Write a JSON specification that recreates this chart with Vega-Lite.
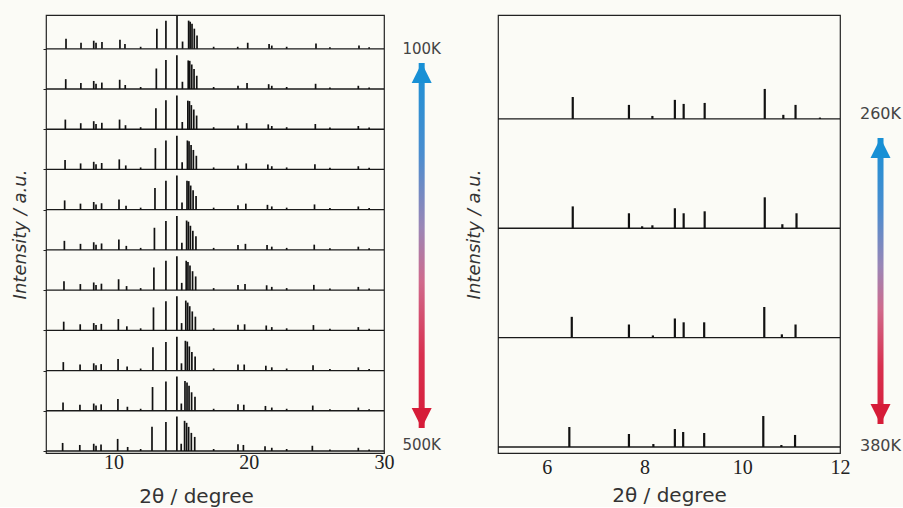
{
"$schema": "https://vega.github.io/schema/vega-lite/v6.json",
"background": "#fbfbf6",
"padding": {"left": 10, "top": 13, "right": 0, "bottom": 0},
"bounds": "flush",
"spacing": 10,
"config": {"view": {"stroke": "#222", "strokeWidth": 1.2}, "axis": {"grid": false, "domain": false, "titleFontWeight": "normal", "titleColor": "#333", "labelColor": "#222"}},
"datasets": {
"L": [
{"t":0,"x":6.23,"p":0.2},{"t":0,"x":7.5,"p":0.15},{"t":0,"x":8.53,"p":0.18},{"t":0,"x":8.7,"p":0.13},{"t":0,"x":9.07,"p":0.16},{"t":0,"x":10.3,"p":0.3},{"t":0,"x":11.04,"p":0.1},{"t":0,"x":12.0,"p":0.05},{"t":0,"x":12.84,"p":0.6},{"t":0,"x":13.87,"p":0.72},{"t":0,"x":14.68,"p":0.86},{"t":0,"x":15.0,"p":0.18},{"t":0,"x":15.25,"p":0.75},{"t":0,"x":15.4,"p":0.7},{"t":0,"x":15.55,"p":0.6},{"t":0,"x":15.75,"p":0.45},{"t":0,"x":16.0,"p":0.35},{"t":0,"x":17.4,"p":0.05},{"t":0,"x":19.2,"p":0.17},{"t":0,"x":19.6,"p":0.15},{"t":0,"x":21.2,"p":0.12},{"t":0,"x":21.7,"p":0.08},{"t":0,"x":22.8,"p":0.05},{"t":0,"x":24.7,"p":0.13},{"t":0,"x":26.0,"p":0.04},{"t":0,"x":28.1,"p":0.08},{"t":0,"x":28.9,"p":0.04},
{"t":1,"x":6.26,"p":1.205},{"t":1,"x":7.51,"p":1.15},{"t":1,"x":8.53,"p":1.18},{"t":1,"x":8.7,"p":1.13},{"t":1,"x":9.08,"p":1.16},{"t":1,"x":10.32,"p":1.29},{"t":1,"x":11.02,"p":1.1},{"t":1,"x":12.0,"p":1.05},{"t":1,"x":12.88,"p":1.59},{"t":1,"x":13.87,"p":1.73},{"t":1,"x":14.68,"p":1.85},{"t":1,"x":15.01,"p":1.18},{"t":1,"x":15.28,"p":1.74},{"t":1,"x":15.43,"p":1.7},{"t":1,"x":15.58,"p":1.62},{"t":1,"x":15.77,"p":1.46},{"t":1,"x":16.02,"p":1.35},{"t":1,"x":17.4,"p":1.05},{"t":1,"x":19.2,"p":1.16},{"t":1,"x":19.63,"p":1.15},{"t":1,"x":21.23,"p":1.12},{"t":1,"x":21.7,"p":1.08},{"t":1,"x":22.8,"p":1.05},{"t":1,"x":24.73,"p":1.13},{"t":1,"x":26.0,"p":1.04},{"t":1,"x":28.1,"p":1.08},{"t":1,"x":28.9,"p":1.04},
{"t":2,"x":6.28,"p":2.21},{"t":2,"x":7.52,"p":2.15},{"t":2,"x":8.53,"p":2.18},{"t":2,"x":8.7,"p":2.13},{"t":2,"x":9.08,"p":2.16},{"t":2,"x":10.33,"p":2.285},{"t":2,"x":11.0,"p":2.1},{"t":2,"x":12.0,"p":2.05},{"t":2,"x":12.91,"p":2.58},{"t":2,"x":13.87,"p":2.71},{"t":2,"x":14.68,"p":2.84},{"t":2,"x":15.02,"p":2.18},{"t":2,"x":15.31,"p":2.74},{"t":2,"x":15.45,"p":2.72},{"t":2,"x":15.6,"p":2.6},{"t":2,"x":15.79,"p":2.46},{"t":2,"x":16.03,"p":2.35},{"t":2,"x":17.4,"p":2.05},{"t":2,"x":19.2,"p":2.15},{"t":2,"x":19.66,"p":2.15},{"t":2,"x":21.26,"p":2.12},{"t":2,"x":21.7,"p":2.08},{"t":2,"x":22.8,"p":2.05},{"t":2,"x":24.75,"p":2.13},{"t":2,"x":26.0,"p":2.04},{"t":2,"x":28.1,"p":2.08},{"t":2,"x":28.9,"p":2.04},
{"t":3,"x":6.31,"p":3.215},{"t":3,"x":7.53,"p":3.15},{"t":3,"x":8.53,"p":3.18},{"t":3,"x":8.7,"p":3.13},{"t":3,"x":9.09,"p":3.16},{"t":3,"x":10.35,"p":3.28},{"t":3,"x":10.98,"p":3.1},{"t":3,"x":12.0,"p":3.05},{"t":3,"x":12.95,"p":3.57},{"t":3,"x":13.87,"p":3.72},{"t":3,"x":14.68,"p":3.85},{"t":3,"x":15.03,"p":3.18},{"t":3,"x":15.34,"p":3.74},{"t":3,"x":15.48,"p":3.69},{"t":3,"x":15.63,"p":3.6},{"t":3,"x":15.82,"p":3.47},{"t":3,"x":16.05,"p":3.34},{"t":3,"x":17.4,"p":3.05},{"t":3,"x":19.2,"p":3.14},{"t":3,"x":19.69,"p":3.15},{"t":3,"x":21.29,"p":3.12},{"t":3,"x":21.7,"p":3.08},{"t":3,"x":22.8,"p":3.05},{"t":3,"x":24.78,"p":3.13},{"t":3,"x":26.0,"p":3.04},{"t":3,"x":28.1,"p":3.08},{"t":3,"x":28.9,"p":3.04},
{"t":4,"x":6.33,"p":4.22},{"t":4,"x":7.54,"p":4.15},{"t":4,"x":8.53,"p":4.19},{"t":4,"x":8.7,"p":4.13},{"t":4,"x":9.1,"p":4.16},{"t":4,"x":10.37,"p":4.27},{"t":4,"x":10.96,"p":4.1},{"t":4,"x":12.0,"p":4.05},{"t":4,"x":12.98,"p":4.56},{"t":4,"x":13.87,"p":4.73},{"t":4,"x":14.68,"p":4.84},{"t":4,"x":15.04,"p":4.18},{"t":4,"x":15.37,"p":4.73},{"t":4,"x":15.5,"p":4.7},{"t":4,"x":15.65,"p":4.61},{"t":4,"x":15.84,"p":4.47},{"t":4,"x":16.07,"p":4.34},{"t":4,"x":17.4,"p":4.05},{"t":4,"x":19.2,"p":4.13},{"t":4,"x":19.72,"p":4.15},{"t":4,"x":21.32,"p":4.12},{"t":4,"x":21.7,"p":4.08},{"t":4,"x":22.8,"p":4.05},{"t":4,"x":24.81,"p":4.13},{"t":4,"x":26.0,"p":4.04},{"t":4,"x":28.1,"p":4.08},{"t":4,"x":28.9,"p":4.04},
{"t":5,"x":6.36,"p":5.225},{"t":5,"x":7.55,"p":5.15},{"t":5,"x":8.53,"p":5.19},{"t":5,"x":8.7,"p":5.13},{"t":5,"x":9.11,"p":5.16},{"t":5,"x":10.39,"p":5.26},{"t":5,"x":10.94,"p":5.1},{"t":5,"x":12.0,"p":5.05},{"t":5,"x":13.02,"p":5.55},{"t":5,"x":13.87,"p":5.72},{"t":5,"x":14.68,"p":5.84},{"t":5,"x":15.05,"p":5.18},{"t":5,"x":15.4,"p":5.73},{"t":5,"x":15.53,"p":5.7},{"t":5,"x":15.68,"p":5.6},{"t":5,"x":15.86,"p":5.475},{"t":5,"x":16.09,"p":5.34},{"t":5,"x":17.4,"p":5.05},{"t":5,"x":19.2,"p":5.12},{"t":5,"x":19.75,"p":5.15},{"t":5,"x":21.35,"p":5.12},{"t":5,"x":21.7,"p":5.08},{"t":5,"x":22.8,"p":5.05},{"t":5,"x":24.84,"p":5.13},{"t":5,"x":26.0,"p":5.04},{"t":5,"x":28.1,"p":5.08},{"t":5,"x":28.9,"p":5.04},
{"t":6,"x":6.38,"p":6.23},{"t":6,"x":7.55,"p":6.15},{"t":6,"x":8.53,"p":6.19},{"t":6,"x":8.7,"p":6.13},{"t":6,"x":9.11,"p":6.16},{"t":6,"x":10.4,"p":6.255},{"t":6,"x":10.92,"p":6.1},{"t":6,"x":12.0,"p":6.05},{"t":6,"x":13.06,"p":6.54},{"t":6,"x":13.87,"p":6.72},{"t":6,"x":14.68,"p":6.85},{"t":6,"x":15.06,"p":6.18},{"t":6,"x":15.43,"p":6.72},{"t":6,"x":15.56,"p":6.71},{"t":6,"x":15.7,"p":6.6},{"t":6,"x":15.88,"p":6.48},{"t":6,"x":16.1,"p":6.34},{"t":6,"x":17.4,"p":6.05},{"t":6,"x":19.2,"p":6.11},{"t":6,"x":19.78,"p":6.15},{"t":6,"x":21.38,"p":6.12},{"t":6,"x":21.7,"p":6.08},{"t":6,"x":22.8,"p":6.05},{"t":6,"x":24.86,"p":6.13},{"t":6,"x":26.0,"p":6.04},{"t":6,"x":28.1,"p":6.08},{"t":6,"x":28.9,"p":6.04},
{"t":7,"x":6.41,"p":7.235},{"t":7,"x":7.56,"p":7.15},{"t":7,"x":8.53,"p":7.19},{"t":7,"x":8.7,"p":7.13},{"t":7,"x":9.12,"p":7.16},{"t":7,"x":10.42,"p":7.25},{"t":7,"x":10.9,"p":7.1},{"t":7,"x":12.0,"p":7.05},{"t":7,"x":13.09,"p":7.53},{"t":7,"x":13.87,"p":7.72},{"t":7,"x":14.68,"p":7.84},{"t":7,"x":15.07,"p":7.18},{"t":7,"x":15.46,"p":7.72},{"t":7,"x":15.58,"p":7.7},{"t":7,"x":15.73,"p":7.61},{"t":7,"x":15.9,"p":7.485},{"t":7,"x":16.12,"p":7.34},{"t":7,"x":17.4,"p":7.05},{"t":7,"x":19.2,"p":7.1},{"t":7,"x":19.81,"p":7.15},{"t":7,"x":21.41,"p":7.12},{"t":7,"x":21.7,"p":7.08},{"t":7,"x":22.8,"p":7.05},{"t":7,"x":24.89,"p":7.13},{"t":7,"x":26.0,"p":7.04},{"t":7,"x":28.1,"p":7.08},{"t":7,"x":28.9,"p":7.04},
{"t":8,"x":6.43,"p":8.24},{"t":8,"x":7.57,"p":8.15},{"t":8,"x":8.53,"p":8.2},{"t":8,"x":8.7,"p":8.13},{"t":8,"x":9.13,"p":8.16},{"t":8,"x":10.44,"p":8.24},{"t":8,"x":10.88,"p":8.1},{"t":8,"x":12.0,"p":8.05},{"t":8,"x":13.13,"p":8.52},{"t":8,"x":13.87,"p":8.72},{"t":8,"x":14.68,"p":8.84},{"t":8,"x":15.08,"p":8.18},{"t":8,"x":15.49,"p":8.71},{"t":8,"x":15.61,"p":8.7},{"t":8,"x":15.75,"p":8.6},{"t":8,"x":15.93,"p":8.49},{"t":8,"x":16.14,"p":8.34},{"t":8,"x":17.4,"p":8.05},{"t":8,"x":19.2,"p":8.09},{"t":8,"x":19.84,"p":8.15},{"t":8,"x":21.44,"p":8.12},{"t":8,"x":21.7,"p":8.08},{"t":8,"x":22.8,"p":8.05},{"t":8,"x":24.92,"p":8.13},{"t":8,"x":26.0,"p":8.04},{"t":8,"x":28.1,"p":8.08},{"t":8,"x":28.9,"p":8.04},
{"t":9,"x":6.46,"p":9.245},{"t":9,"x":7.58,"p":9.15},{"t":9,"x":8.53,"p":9.2},{"t":9,"x":8.7,"p":9.13},{"t":9,"x":9.13,"p":9.16},{"t":9,"x":10.45,"p":9.23},{"t":9,"x":10.86,"p":9.1},{"t":9,"x":12.0,"p":9.05},{"t":9,"x":13.16,"p":9.51},{"t":9,"x":13.87,"p":9.72},{"t":9,"x":14.68,"p":9.84},{"t":9,"x":15.09,"p":9.18},{"t":9,"x":15.52,"p":9.71},{"t":9,"x":15.63,"p":9.7},{"t":9,"x":15.78,"p":9.61},{"t":9,"x":15.95,"p":9.495},{"t":9,"x":16.15,"p":9.33},{"t":9,"x":17.4,"p":9.05},{"t":9,"x":19.2,"p":9.08},{"t":9,"x":19.87,"p":9.15},{"t":9,"x":21.47,"p":9.12},{"t":9,"x":21.7,"p":9.08},{"t":9,"x":22.8,"p":9.05},{"t":9,"x":24.94,"p":9.13},{"t":9,"x":26.0,"p":9.04},{"t":9,"x":28.1,"p":9.08},{"t":9,"x":28.9,"p":9.04},
{"t":10,"x":6.48,"p":10.25},{"t":10,"x":7.59,"p":10.15},{"t":10,"x":8.53,"p":10.2},{"t":10,"x":8.7,"p":10.15},{"t":10,"x":9.14,"p":10.17},{"t":10,"x":10.47,"p":10.225},{"t":10,"x":10.84,"p":10.12},{"t":10,"x":12.0,"p":10.05},{"t":10,"x":13.2,"p":10.5},{"t":10,"x":13.87,"p":10.7},{"t":10,"x":14.69,"p":10.82},{"t":10,"x":15.1,"p":10.18},{"t":10,"x":15.55,"p":10.7},{"t":10,"x":15.66,"p":10.67},{"t":10,"x":15.8,"p":10.62},{"t":10,"x":15.97,"p":10.5},{"t":10,"x":16.17,"p":10.33},{"t":10,"x":17.4,"p":10.05},{"t":10,"x":19.18,"p":10.05},{"t":10,"x":19.92,"p":10.15},{"t":10,"x":21.5,"p":10.12},{"t":10,"x":21.7,"p":10.08},{"t":10,"x":22.8,"p":10.05},{"t":10,"x":24.97,"p":10.13},{"t":10,"x":26.0,"p":10.04},{"t":10,"x":28.15,"p":10.08},{"t":10,"x":28.9,"p":10.04}
],
"R": [
{"t":3,"x":6.53,"p":3.2},{"t":3,"x":7.68,"p":3.128},{"t":3,"x":8.16,"p":3.027},{"t":3,"x":8.62,"p":3.174},{"t":3,"x":8.8,"p":3.137},{"t":3,"x":9.23,"p":3.146},{"t":3,"x":10.46,"p":3.274},{"t":3,"x":10.84,"p":3.037},{"t":3,"x":11.09,"p":3.128},{"t":3,"x":11.59,"p":3.012},
{"t":2,"x":6.53,"p":2.2},{"t":2,"x":7.68,"p":2.137},{"t":2,"x":7.95,"p":2.018},{"t":2,"x":8.16,"p":2.027},{"t":2,"x":8.62,"p":2.183},{"t":2,"x":8.8,"p":2.137},{"t":2,"x":9.23,"p":2.155},{"t":2,"x":10.46,"p":2.283},{"t":2,"x":10.82,"p":2.037},{"t":2,"x":11.11,"p":2.137},
{"t":1,"x":6.51,"p":1.19},{"t":1,"x":7.68,"p":1.12},{"t":1,"x":8.17,"p":1.02},{"t":1,"x":8.62,"p":1.175},{"t":1,"x":8.8,"p":1.14},{"t":1,"x":9.22,"p":1.14},{"t":1,"x":10.45,"p":1.28},{"t":1,"x":10.81,"p":1.03},{"t":1,"x":11.09,"p":1.12},
{"t":0,"x":6.46,"p":0.183},{"t":0,"x":7.68,"p":0.119},{"t":0,"x":8.18,"p":0.027},{"t":0,"x":8.62,"p":0.164},{"t":0,"x":8.79,"p":0.137},{"t":0,"x":9.22,"p":0.128},{"t":0,"x":10.43,"p":0.283},{"t":0,"x":10.8,"p":0.018},{"t":0,"x":11.08,"p":0.11}
]
},
"hconcat": [
{
"width": 338, "height": 438,
"resolve": {"axis": {"x": "independent"}},
"layer": [
{"data": {"values": [{"t":0},{"t":1},{"t":2},{"t":3},{"t":4},{"t":5},{"t":6},{"t":7},{"t":8},{"t":9},{"t":10}]},
 "mark": {"type": "rule", "color": "#1a1a1a", "strokeWidth": 1.3},
 "encoding": {"y": {"field": "t", "type": "quantitative", "scale": {"domain": [-0.05, 10.84], "nice": false, "zero": false},
   "axis": {"orient": "left", "values": [0,1,2,3,4,5,6,7,8,9,10], "labels": false, "tickSize": 3, "tickColor": "#222", "title": "Intensity / a.u.", "titleFont": "DejaVu Sans", "titleFontSize": 18, "titleFontStyle": "italic", "titlePadding": 13}}}},
{"data": {"name": "L"},
 "mark": {"type": "rule", "color": "#111", "strokeWidth": 1.7},
 "encoding": {
   "x": {"field": "x", "type": "quantitative", "scale": {"domain": [5, 30], "nice": false, "zero": false},
     "axis": {"orient": "bottom", "values": [10,20,30], "ticks": false, "labelFont": "Liberation Serif", "labelFontSize": 20, "labelPadding": -1, "labelFlush": false, "title": "2θ / degree", "titleFont": "DejaVu Sans", "titleFontSize": 20, "titlePadding": 14, "titleX": 150}},
   "y": {"field": "t", "type": "quantitative", "scale": {"domain": [-0.05, 10.84], "nice": false, "zero": false},
     "axis": {"orient": "left", "values": [0,1,2,3,4,5,6,7,8,9,10], "labels": false, "tickSize": 3, "tickColor": "#222", "title": "Intensity / a.u.", "titleFont": "DejaVu Sans", "titleFontSize": 18, "titleFontStyle": "italic", "titlePadding": 13}},
   "y2": {"field": "p"}}},
{"data": {"name": "L"},
 "mark": {"type": "rule", "opacity": 0},
 "encoding": {
   "x": {"field": "x", "type": "quantitative", "scale": {"domain": [5, 30], "nice": false, "zero": false},
     "axis": {"orient": "top", "values": [10,15,20,25], "labels": false, "tickSize": 0, "tickColor": "#222", "tickWidth": 1.2, "title": null,
       "encode": {"ticks": {"update": {"y2": {"signal": "datum.value % 10 == 0 ? 9 : 5"}}}}}}}}
]
},
{
"width": 94, "height": 438, "view": {"stroke": null},
"layer": [
{"data": {"values": [{"T0": 100, "T1": 500}]},
 "mark": {"type": "bar", "width": 6, "fill": {"gradient": "linear", "x1": 0, "y1": 0, "x2": 0, "y2": 1, "stops": [{"offset": 0, "color": "#1890d5"}, {"offset": 0.25, "color": "#4a8dcf"}, {"offset": 0.45, "color": "#9a86b6"}, {"offset": 0.6, "color": "#d06a8c"}, {"offset": 0.8, "color": "#d8304f"}, {"offset": 1, "color": "#d61c38"}]}},
 "encoding": {"x": {"datum": 0.27, "type": "quantitative", "scale": {"domain": [0, 1]}, "axis": null},
   "y": {"field": "T0", "type": "quantitative", "scale": {"domain": [47.4, 527.4], "reverse": true, "nice": false, "zero": false}, "axis": null},
   "y2": {"field": "T1"}}},
{"data": {"values": [{"T": 100, "d": "up"}, {"T": 500, "d": "down"}]},
 "mark": {"type": "point", "filled": true, "size": 400, "opacity": 1, "strokeWidth": 0},
 "encoding": {"x": {"datum": 0.27, "type": "quantitative", "scale": {"domain": [0, 1]}, "axis": null},
   "y": {"field": "T", "type": "quantitative", "scale": {"domain": [47.4, 527.4], "reverse": true, "nice": false, "zero": false}, "axis": null},
   "shape": {"field": "d", "type": "nominal", "scale": {"domain": ["up", "down"], "range": ["M0,0L1,2L-1,2Z", "M0,0L1,-2L-1,-2Z"]}, "legend": null},
   "color": {"field": "d", "type": "nominal", "scale": {"domain": ["up", "down"], "range": ["#1890d5", "#d61c38"]}, "legend": null}}},
{"data": {"values": [{"T": 100, "label": "100K"}]},
 "mark": {"type": "text", "dy": -9, "baseline": "alphabetic", "font": "DejaVu Sans", "fontSize": 15, "color": "#444"},
 "encoding": {"x": {"datum": 0.27, "type": "quantitative", "scale": {"domain": [0, 1]}, "axis": null},
   "y": {"field": "T", "type": "quantitative", "scale": {"domain": [47.4, 527.4], "reverse": true, "nice": false, "zero": false}, "axis": null},
   "text": {"field": "label"}}},
{"data": {"values": [{"T": 500, "label": "500K"}]},
 "mark": {"type": "text", "dy": 22, "baseline": "alphabetic", "font": "DejaVu Sans", "fontSize": 15, "color": "#444"},
 "encoding": {"x": {"datum": 0.27, "type": "quantitative", "scale": {"domain": [0, 1]}, "axis": null},
   "y": {"field": "T", "type": "quantitative", "scale": {"domain": [47.4, 527.4], "reverse": true, "nice": false, "zero": false}, "axis": null},
   "text": {"field": "label"}}}
]
},
{
"width": 342, "height": 438,
"resolve": {"axis": {"x": "independent"}},
"layer": [
{"data": {"values": [{"t":0},{"t":1},{"t":2},{"t":3}]},
 "mark": {"type": "rule", "color": "#1a1a1a", "strokeWidth": 1.3},
 "encoding": {"y": {"field": "t", "type": "quantitative", "scale": {"domain": [-0.055, 3.95], "nice": false, "zero": false},
   "axis": {"orient": "left", "values": [0,1,2,3], "labels": false, "ticks": false, "title": "Intensity / a.u.", "titleFont": "DejaVu Sans", "titleFontSize": 18, "titleFontStyle": "italic", "titlePadding": 15}}}},
{"data": {"name": "R"},
 "mark": {"type": "rule", "color": "#111", "strokeWidth": 2.2},
 "encoding": {
   "x": {"field": "x", "type": "quantitative", "scale": {"domain": [5, 12], "nice": false, "zero": false},
     "axis": {"orient": "bottom", "values": [6,7,8,9,10,11,12], "labelExpr": "datum.value % 2 == 0 ? datum.label : ''", "tickSize": 0, "tickColor": "#222", "tickWidth": 1.2,
       "encode": {"ticks": {"update": {"y2": {"value": -5}}}},
       "labelFont": "Liberation Serif", "labelFontSize": 20, "labelPadding": 4, "labelFlush": false, "title": "2θ / degree", "titleFont": "DejaVu Sans", "titleFontSize": 20, "titlePadding": 8}},
   "y": {"field": "t", "type": "quantitative", "scale": {"domain": [-0.055, 3.95], "nice": false, "zero": false},
     "axis": {"orient": "left", "values": [0,1,2,3], "labels": false, "ticks": false, "title": "Intensity / a.u.", "titleFont": "DejaVu Sans", "titleFontSize": 18, "titleFontStyle": "italic", "titlePadding": 15}},
   "y2": {"field": "p"}}},
{"data": {"name": "R"},
 "mark": {"type": "rule", "opacity": 0},
 "encoding": {
   "x": {"field": "x", "type": "quantitative", "scale": {"domain": [5, 12], "nice": false, "zero": false},
     "axis": {"orient": "top", "values": [6,7,8,9,10,11], "labels": false, "tickSize": 0, "tickColor": "#222", "tickWidth": 1.2, "title": null,
       "encode": {"ticks": {"update": {"y2": {"signal": "datum.value % 2 == 0 ? 9 : 4"}}}}}}}}
]
},
{
"width": 54, "height": 438, "view": {"stroke": null},
"layer": [
{"data": {"values": [{"T0": 260, "T1": 380}]},
 "mark": {"type": "bar", "width": 6, "fill": {"gradient": "linear", "x1": 0, "y1": 0, "x2": 0, "y2": 1, "stops": [{"offset": 0, "color": "#1890d5"}, {"offset": 0.25, "color": "#4a8dcf"}, {"offset": 0.45, "color": "#9a86b6"}, {"offset": 0.6, "color": "#d06a8c"}, {"offset": 0.8, "color": "#d8304f"}, {"offset": 1, "color": "#d61c38"}]}},
 "encoding": {"x": {"datum": 0.58, "type": "quantitative", "scale": {"domain": [0, 1]}, "axis": null},
   "y": {"field": "T0", "type": "quantitative", "scale": {"domain": [208.4, 392.2], "reverse": true, "nice": false, "zero": false}, "axis": null},
   "y2": {"field": "T1"}}},
{"data": {"values": [{"T": 260, "d": "up"}, {"T": 380, "d": "down"}]},
 "mark": {"type": "point", "filled": true, "size": 400, "opacity": 1, "strokeWidth": 0},
 "encoding": {"x": {"datum": 0.58, "type": "quantitative", "scale": {"domain": [0, 1]}, "axis": null},
   "y": {"field": "T", "type": "quantitative", "scale": {"domain": [208.4, 392.2], "reverse": true, "nice": false, "zero": false}, "axis": null},
   "shape": {"field": "d", "type": "nominal", "scale": {"domain": ["up", "down"], "range": ["M0,0L1,2L-1,2Z", "M0,0L1,-2L-1,-2Z"]}, "legend": null},
   "color": {"field": "d", "type": "nominal", "scale": {"domain": ["up", "down"], "range": ["#1890d5", "#d61c38"]}, "legend": null}}},
{"data": {"values": [{"T": 260, "label": "260K"}]},
 "mark": {"type": "text", "dy": -19, "baseline": "alphabetic", "font": "DejaVu Sans", "fontSize": 16, "color": "#444"},
 "encoding": {"x": {"datum": 0.58, "type": "quantitative", "scale": {"domain": [0, 1]}, "axis": null},
   "y": {"field": "T", "type": "quantitative", "scale": {"domain": [208.4, 392.2], "reverse": true, "nice": false, "zero": false}, "axis": null},
   "text": {"field": "label"}}},
{"data": {"values": [{"T": 380, "label": "380K"}]},
 "mark": {"type": "text", "dy": 27, "baseline": "alphabetic", "font": "DejaVu Sans", "fontSize": 16, "color": "#444"},
 "encoding": {"x": {"datum": 0.58, "type": "quantitative", "scale": {"domain": [0, 1]}, "axis": null},
   "y": {"field": "T", "type": "quantitative", "scale": {"domain": [208.4, 392.2], "reverse": true, "nice": false, "zero": false}, "axis": null},
   "text": {"field": "label"}}}
]
}
]
}
